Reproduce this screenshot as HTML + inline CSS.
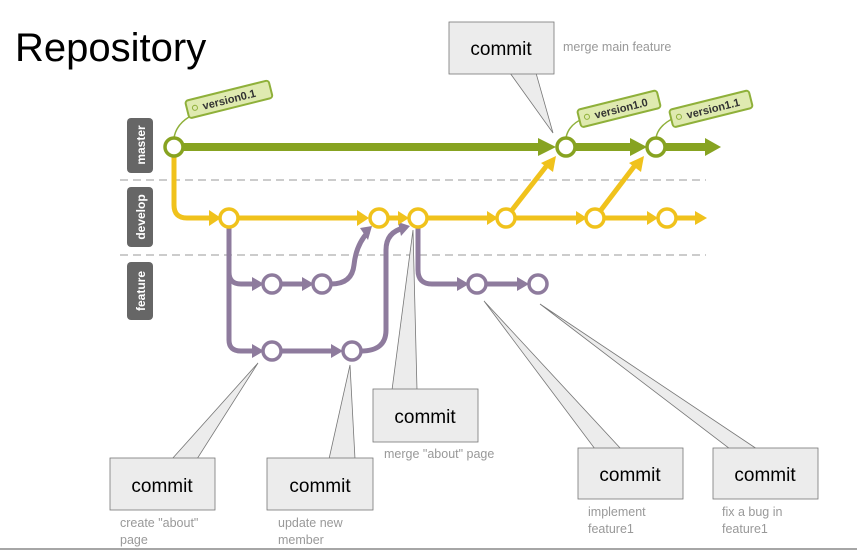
<!DOCTYPE html>
<html><head><meta charset="utf-8"><style>
html,body{margin:0;padding:0;background:#fff;}
svg{display:block;font-family:"Liberation Sans",sans-serif;}
</style></head><body>
<svg width="857" height="552" viewBox="0 0 857 552" xmlns="http://www.w3.org/2000/svg">
<rect width="857" height="552" fill="#fff"/>
<text x="15" y="61" font-size="40" fill="#000">Repository</text>

<!-- lane labels -->
<rect x="127" y="118" width="26" height="55" rx="4" fill="#666"/>
<text transform="translate(145,145) rotate(-90)" text-anchor="middle" font-size="12" font-weight="bold" fill="#fff">master</text>
<rect x="127" y="187" width="26" height="60" rx="4" fill="#666"/>
<text transform="translate(145,217) rotate(-90)" text-anchor="middle" font-size="12" font-weight="bold" fill="#fff">develop</text>
<rect x="127" y="262" width="26" height="58" rx="4" fill="#666"/>
<text transform="translate(145,291) rotate(-90)" text-anchor="middle" font-size="12" font-weight="bold" fill="#fff">feature</text>

<line x1="120" y1="180" x2="706" y2="180" stroke="#bbb" stroke-width="1.5" stroke-dasharray="8,5"/>
<line x1="120" y1="255" x2="706" y2="255" stroke="#bbb" stroke-width="1.5" stroke-dasharray="8,5"/>

<!-- callout pointers -->
<g fill="#ececec" stroke="#777" stroke-width="0.8">
<polygon points="510,73 536,73 553,133"/>
<polygon points="172,459 197,459 258,363"/>
<polygon points="329,459 355,459 350,365"/>
<polygon points="392,390 417,390 413,230"/>
<polygon points="595,449 621,449 484,301"/>
<polygon points="730,449 757,449 540,304"/>
</g>

<!-- feature (purple) -->
<g stroke="#8e7b9d" stroke-width="5" fill="none">
<path d="M229,225 V272 Q229,284 241,284 H255"/>
<path d="M229,272 V340 Q229,351 241,351 H255"/>
<path d="M281,284 H305"/>
<path d="M331,284 Q352,284 354,265 Q356,245 368,232"/>
<path d="M281,351 H334"/>
<path d="M361,351 Q386,351 386,330 V250 Q386,232 404,228"/>
<path d="M418,227 V270 Q418,284 432,284 H460"/>
<path d="M486,284 H520"/>
</g>
<g fill="#8e7b9d">
<polygon points="252,277 264,284 252,291"/>
<polygon points="302,277 314,284 302,291"/>
<polygon points="252,344 264,351 252,358"/>
<polygon points="331,344 343,351 331,358"/>
<polygon points="457,277 469,284 457,291"/>
<polygon points="517,277 529,284 517,291"/>
<polygon points="360,228 372,226 368,240"/>
<polygon points="398,222 410,226 401,236"/>
</g>

<!-- develop (yellow) -->
<g stroke="#f0c21c" stroke-width="5" fill="none">
<path d="M174,155 V205 Q174,218 187,218 H212"/>
<path d="M238,218 H360"/>
<path d="M388,218 H400"/>
<path d="M427,218 H490"/>
<path d="M515,218 H580"/>
<path d="M604,218 H650"/>
<path d="M676,218 H696"/>
<path d="M512,210 L548,164"/>
<path d="M601,210 L636,164"/>
</g>
<g fill="#f0c21c">
<polygon points="209,210 221,218 209,226"/>
<polygon points="357,210 369,218 357,226"/>
<polygon points="398,211 409,218 398,225"/>
<polygon points="487,211 498,218 487,225"/>
<polygon points="576,211 587,218 576,225"/>
<polygon points="647,211 658,218 647,225"/>
<polygon points="695,211 707,218 695,225"/>
<polygon points="541,163 556,156 553,172"/>
<polygon points="629,163 644,156 641,172"/>
</g>

<!-- master (green) -->
<g stroke="#87a321" stroke-width="8" fill="none">
<path d="M183,147 H540"/>
<path d="M575,147 H632"/>
<path d="M665,147 H708"/>
</g>
<g fill="#87a321">
<polygon points="538,138 556,147 538,156"/>
<polygon points="630,138 647,147 630,156"/>
<polygon points="705,138 721,147 705,156"/>
</g>

<!-- tags -->
<g stroke="#8fb03a" stroke-width="1.5" fill="none">
<path d="M174,138 Q176,125 189,117"/>
<path d="M566,138 Q568,125 584,118"/>
<path d="M656,138 Q658,125 676,117"/>
</g>
<g font-size="11" font-weight="bold" fill="#333">
<g transform="translate(185,101) rotate(-14)"><rect x="0" y="0" width="86" height="18" rx="3" fill="#dfeab0" stroke="#8fb03a" stroke-width="2"/><circle cx="8" cy="9" r="2.5" fill="none" stroke="#8fb03a"/><text x="16" y="13">version0.1</text></g>
<g transform="translate(577,110) rotate(-14)"><rect x="0" y="0" width="82" height="18" rx="3" fill="#dfeab0" stroke="#8fb03a" stroke-width="2"/><circle cx="8" cy="9" r="2.5" fill="none" stroke="#8fb03a"/><text x="16" y="13">version1.0</text></g>
<g transform="translate(669,110) rotate(-14)"><rect x="0" y="0" width="82" height="18" rx="3" fill="#dfeab0" stroke="#8fb03a" stroke-width="2"/><circle cx="8" cy="9" r="2.5" fill="none" stroke="#8fb03a"/><text x="16" y="13">version1.1</text></g>
</g>

<!-- circles -->
<g fill="#fff" stroke-width="3.5">
<circle cx="174" cy="147" r="9" stroke="#87a321"/>
<circle cx="566" cy="147" r="9" stroke="#87a321"/>
<circle cx="656" cy="147" r="9" stroke="#87a321"/>
<circle cx="229" cy="218" r="9" stroke="#f0c21c"/>
<circle cx="379" cy="218" r="9" stroke="#f0c21c"/>
<circle cx="418" cy="218" r="9" stroke="#f0c21c"/>
<circle cx="506" cy="218" r="9" stroke="#f0c21c"/>
<circle cx="595" cy="218" r="9" stroke="#f0c21c"/>
<circle cx="667" cy="218" r="9" stroke="#f0c21c"/>
<circle cx="272" cy="284" r="9" stroke="#8e7b9d"/>
<circle cx="322" cy="284" r="9" stroke="#8e7b9d"/>
<circle cx="272" cy="351" r="9" stroke="#8e7b9d"/>
<circle cx="352" cy="351" r="9" stroke="#8e7b9d"/>
<circle cx="477" cy="284" r="9" stroke="#8e7b9d"/>
<circle cx="538" cy="284" r="9" stroke="#8e7b9d"/>
</g>

<!-- callout boxes -->
<g fill="#ececec" stroke="#777" stroke-width="0.8">
<rect x="449" y="22" width="105" height="52"/>
<rect x="110" y="458" width="105" height="52"/>
<rect x="267" y="458" width="106" height="52"/>
<rect x="373" y="389" width="105" height="53"/>
<rect x="578" y="448" width="105" height="51"/>
<rect x="713" y="448" width="105" height="51"/>
</g>
<g font-size="19" fill="#000" text-anchor="middle">
<text x="501" y="55">commit</text>
<text x="162" y="492">commit</text>
<text x="320" y="492">commit</text>
<text x="425" y="423">commit</text>
<text x="630" y="481">commit</text>
<text x="765" y="481">commit</text>
</g>
<g font-size="12.5" fill="#999">
<text x="563" y="51">merge main feature</text>
<text x="120" y="527">create "about"</text>
<text x="120" y="544">page</text>
<text x="278" y="527">update new</text>
<text x="278" y="544">member</text>
<text x="384" y="458">merge "about" page</text>
<text x="588" y="516">implement</text>
<text x="588" y="533">feature1</text>
<text x="722" y="516">fix a bug in</text>
<text x="722" y="533">feature1</text>
</g>
<line x1="0" y1="549" x2="857" y2="549" stroke="#888" stroke-width="1.5"/>
</svg>
</body></html>
